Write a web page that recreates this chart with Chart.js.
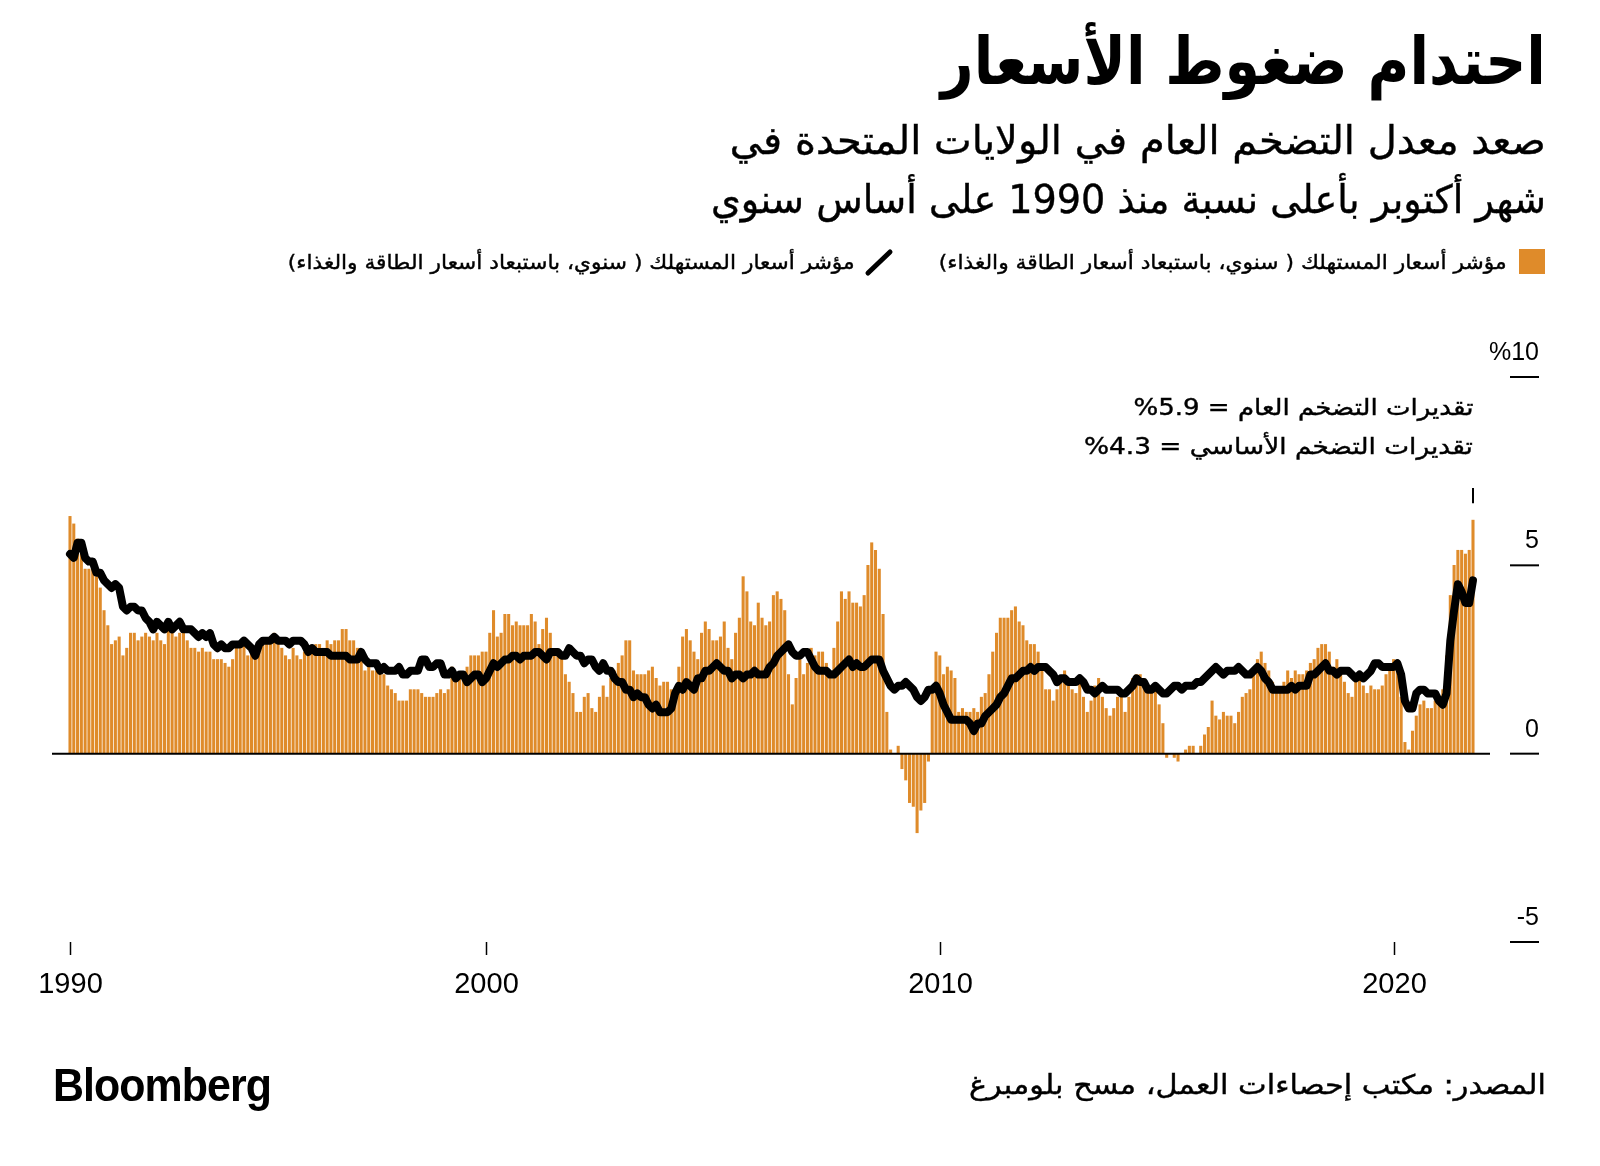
<!DOCTYPE html>
<html>
<head>
<meta charset="utf-8">
<script src="https://cdn.jsdelivr.net/npm/chart.js@4.4.0/dist/chart.umd.min.js"></script>
<style>
body { margin: 0; background: #fff; width: 1600px; height: 1166px; overflow: hidden; position: relative; color: #000; }
canvas { position: absolute; left: 0; top: 0; }
.t { position: absolute; white-space: nowrap; direction: rtl; line-height: 1; transform-origin: right center; font-family: "DejaVu Sans", sans-serif; -webkit-text-stroke: 0.4px #000; }
#titulo { font-weight: bold; font-size: 66px; right: 54px; top: 29px; -webkit-text-stroke: 0; }
#sub1 { font-size: 39px; right: 54px; top: 121px; }
#sub2 { font-size: 39px; right: 54px; top: 180px; }
#ley1 { font-size: 20px; right: 93px; top: 252px; }
#ley2 { font-size: 20px; right: 745px; top: 252px; }
#nota1 { font-size: 23px; right: 127px; top: 396px; }
#nota2 { font-size: 23px; right: 127px; top: 435px; }
#fuente { font-size: 27px; right: 54px; top: 1071px; }
#logo { position: absolute; left: 53px; top: 1062px; font-family: "Liberation Sans", Arial, sans-serif; font-weight: bold; font-size: 46px; letter-spacing: -1px; line-height: 1; white-space: nowrap; transform-origin: left center; }
</style>
</head>
<body>
<canvas id="grafica" width="1600" height="1166"></canvas>
<div class="t" id="titulo" data-w="605">احتدام ضغوط الأسعار</div>
<div class="t" id="sub1" data-w="816">صعد معدل التضخم العام في الولايات المتحدة في</div>
<div class="t" id="sub2" data-w="835">شهر أكتوبر بأعلى نسبة منذ 1990 على أساس سنوي</div>
<div class="t" id="ley1" data-w="568">مؤشر أسعار المستهلك ( سنوي، باستبعاد أسعار الطاقة والغذاء)</div>
<div class="t" id="ley2" data-w="567">مؤشر أسعار المستهلك ( سنوي، باستبعاد أسعار الطاقة والغذاء)</div>
<div class="t" id="nota1" data-w="340">تقديرات التضخم العام = 5.9%</div>
<div class="t" id="nota2" data-w="389">تقديرات التضخم الأساسي = 4.3%</div>
<div class="t" id="fuente" data-w="577">المصدر: مكتب إحصاءات العمل، مسح بلومبرغ</div>
<div id="logo" data-w="218">Bloomberg</div>
<script>
// Datos mensuales, nov 1990 - oct 2021 (% anual)
const mesInicio = { ano: 1990, mes: 11 };

const inflacionGeneral = [
    6.3, 6.1,
    5.7, 5.3, 4.9, 4.9, 5.0, 4.7, 4.4, 3.8, 3.4, 2.9, 3.0, 3.1, // 1991
    2.6, 2.8, 3.2, 3.2, 3.0, 3.1, 3.2, 3.1, 3.0, 3.2, 3.0, 2.9, // 1992
    3.3, 3.2, 3.1, 3.2, 3.2, 3.0, 2.8, 2.8, 2.7, 2.8, 2.7, 2.7, // 1993
    2.5, 2.5, 2.5, 2.4, 2.3, 2.5, 2.8, 2.9, 3.0, 2.6, 2.7, 2.7, // 1994
    2.8, 2.9, 2.9, 3.1, 3.2, 3.0, 2.8, 2.6, 2.5, 2.8, 2.6, 2.5, // 1995
    2.7, 2.7, 2.8, 2.9, 2.9, 2.8, 3.0, 2.9, 3.0, 3.0, 3.3, 3.3, // 1996
    3.0, 3.0, 2.8, 2.5, 2.2, 2.3, 2.2, 2.2, 2.2, 2.1, 1.8, 1.7, // 1997
    1.6, 1.4, 1.4, 1.4, 1.7, 1.7, 1.7, 1.6, 1.5, 1.5, 1.5, 1.6, // 1998
    1.7, 1.6, 1.7, 2.3, 2.1, 2.0, 2.1, 2.3, 2.6, 2.6, 2.6, 2.7, // 1999
    2.7, 3.2, 3.8, 3.1, 3.2, 3.7, 3.7, 3.4, 3.5, 3.4, 3.4, 3.4, // 2000
    3.7, 3.5, 2.9, 3.3, 3.6, 3.2, 2.7, 2.7, 2.6, 2.1, 1.9, 1.6, // 2001
    1.1, 1.1, 1.5, 1.6, 1.2, 1.1, 1.5, 1.8, 1.5, 2.0, 2.2, 2.4, // 2002
    2.6, 3.0, 3.0, 2.2, 2.1, 2.1, 2.1, 2.2, 2.3, 2.0, 1.8, 1.9, // 2003
    1.9, 1.7, 1.7, 2.3, 3.1, 3.3, 3.0, 2.7, 2.5, 3.2, 3.5, 3.3, // 2004
    3.0, 3.0, 3.1, 3.5, 2.8, 2.5, 3.2, 3.6, 4.7, 4.3, 3.5, 3.4, // 2005
    4.0, 3.6, 3.4, 3.5, 4.2, 4.3, 4.1, 3.8, 2.1, 1.3, 2.0, 2.5, // 2006
    2.1, 2.4, 2.8, 2.6, 2.7, 2.7, 2.4, 2.0, 2.8, 3.5, 4.3, 4.1, // 2007
    4.3, 4.0, 4.0, 3.9, 4.2, 5.0, 5.6, 5.4, 4.9, 3.7, 1.1, 0.1, // 2008
    0.0, 0.2, -0.4, -0.7, -1.3, -1.4, -2.1, -1.5, -1.3, -0.2, 1.8, 2.7, // 2009
    2.6, 2.1, 2.3, 2.2, 2.0, 1.1, 1.2, 1.1, 1.1, 1.2, 1.1, 1.5, // 2010
    1.6, 2.1, 2.7, 3.2, 3.6, 3.6, 3.6, 3.8, 3.9, 3.5, 3.4, 3.0, // 2011
    2.9, 2.9, 2.7, 2.3, 1.7, 1.7, 1.4, 1.7, 2.0, 2.2, 1.8, 1.7, // 2012
    1.6, 2.0, 1.5, 1.1, 1.4, 1.8, 2.0, 1.5, 1.2, 1.0, 1.2, 1.5, // 2013
    1.6, 1.1, 1.5, 2.0, 2.1, 2.1, 2.0, 1.7, 1.7, 1.7, 1.3, 0.8, // 2014
    -0.1, 0.0, -0.1, -0.2, 0.0, 0.1, 0.2, 0.2, 0.0, 0.2, 0.5, 0.7, // 2015
    1.4, 1.0, 0.9, 1.1, 1.0, 1.0, 0.8, 1.1, 1.5, 1.6, 1.7, 2.1, // 2016
    2.5, 2.7, 2.4, 2.2, 1.9, 1.6, 1.7, 1.9, 2.2, 2.0, 2.2, 2.1, // 2017
    2.1, 2.2, 2.4, 2.5, 2.8, 2.9, 2.9, 2.7, 2.3, 2.5, 2.2, 1.9, // 2018
    1.6, 1.5, 1.9, 2.0, 1.8, 1.6, 1.8, 1.7, 1.7, 1.8, 2.1, 2.3, // 2019
    2.5, 2.3, 1.5, 0.3, 0.1, 0.6, 1.0, 1.3, 1.4, 1.2, 1.2, 1.4, // 2020
    1.4, 1.7, 2.6, 4.2, 5.0, 5.4, 5.4, 5.3, 5.4, 6.2            // 2021
];

const inflacionSubyacente = [
    5.3, 5.2,
    5.6, 5.6, 5.2, 5.1, 5.1, 4.8, 4.8, 4.6, 4.5, 4.4, 4.5, 4.4, // 1991
    3.9, 3.8, 3.9, 3.9, 3.8, 3.8, 3.6, 3.5, 3.3, 3.5, 3.4, 3.3, // 1992
    3.5, 3.3, 3.4, 3.5, 3.3, 3.3, 3.3, 3.2, 3.1, 3.2, 3.1, 3.2, // 1993
    2.9, 2.8, 2.9, 2.8, 2.8, 2.9, 2.9, 2.9, 3.0, 2.9, 2.8, 2.6, // 1994
    2.9, 3.0, 3.0, 3.0, 3.1, 3.0, 3.0, 3.0, 2.9, 3.0, 3.0, 3.0, // 1995
    2.9, 2.7, 2.8, 2.7, 2.7, 2.7, 2.7, 2.6, 2.6, 2.6, 2.6, 2.6, // 1996
    2.5, 2.5, 2.5, 2.7, 2.5, 2.4, 2.4, 2.4, 2.2, 2.3, 2.2, 2.2, // 1997
    2.2, 2.3, 2.1, 2.1, 2.2, 2.2, 2.2, 2.5, 2.5, 2.3, 2.3, 2.4, // 1998
    2.4, 2.1, 2.1, 2.2, 2.0, 2.1, 2.1, 1.9, 2.0, 2.1, 2.1, 1.9, // 1999
    2.0, 2.2, 2.4, 2.3, 2.4, 2.5, 2.5, 2.6, 2.6, 2.5, 2.6, 2.6, // 2000
    2.6, 2.7, 2.7, 2.6, 2.5, 2.7, 2.7, 2.7, 2.6, 2.6, 2.8, 2.7, // 2001
    2.6, 2.6, 2.4, 2.5, 2.5, 2.3, 2.2, 2.4, 2.2, 2.2, 2.0, 1.9, // 2002
    1.9, 1.7, 1.7, 1.5, 1.6, 1.5, 1.5, 1.3, 1.2, 1.3, 1.1, 1.1, // 2003
    1.1, 1.2, 1.6, 1.8, 1.7, 1.9, 1.8, 1.7, 2.0, 2.0, 2.2, 2.2, // 2004
    2.3, 2.4, 2.3, 2.2, 2.2, 2.0, 2.1, 2.1, 2.0, 2.1, 2.1, 2.2, // 2005
    2.1, 2.1, 2.1, 2.3, 2.4, 2.6, 2.7, 2.8, 2.9, 2.7, 2.6, 2.6, // 2006
    2.7, 2.7, 2.5, 2.3, 2.2, 2.2, 2.2, 2.1, 2.1, 2.2, 2.3, 2.4, // 2007
    2.5, 2.3, 2.4, 2.3, 2.3, 2.4, 2.5, 2.5, 2.5, 2.2, 2.0, 1.8, // 2008
    1.7, 1.8, 1.8, 1.9, 1.8, 1.7, 1.5, 1.4, 1.5, 1.7, 1.7, 1.8, // 2009
    1.6, 1.3, 1.1, 0.9, 0.9, 0.9, 0.9, 0.9, 0.8, 0.6, 0.8, 0.8, // 2010
    1.0, 1.1, 1.2, 1.3, 1.5, 1.6, 1.8, 2.0, 2.0, 2.1, 2.2, 2.2, // 2011
    2.3, 2.2, 2.3, 2.3, 2.3, 2.2, 2.1, 1.9, 2.0, 2.0, 1.9, 1.9, // 2012
    1.9, 2.0, 1.9, 1.7, 1.7, 1.6, 1.7, 1.8, 1.7, 1.7, 1.7, 1.7, // 2013
    1.6, 1.6, 1.7, 1.8, 2.0, 1.9, 1.9, 1.7, 1.7, 1.8, 1.7, 1.6, // 2014
    1.6, 1.7, 1.8, 1.8, 1.7, 1.8, 1.8, 1.8, 1.9, 1.9, 2.0, 2.1, // 2015
    2.2, 2.3, 2.2, 2.1, 2.2, 2.2, 2.2, 2.3, 2.2, 2.1, 2.1, 2.2, // 2016
    2.3, 2.2, 2.0, 1.9, 1.7, 1.7, 1.7, 1.7, 1.7, 1.8, 1.7, 1.8, // 2017
    1.8, 1.8, 2.1, 2.1, 2.2, 2.3, 2.4, 2.2, 2.2, 2.1, 2.2, 2.2, // 2018
    2.2, 2.1, 2.0, 2.1, 2.0, 2.1, 2.2, 2.4, 2.4, 2.3, 2.3, 2.3, // 2019
    2.3, 2.4, 2.1, 1.4, 1.2, 1.2, 1.6, 1.7, 1.7, 1.6, 1.6, 1.6, // 2020
    1.4, 1.3, 1.6, 3.0, 3.8, 4.5, 4.3, 4.0, 4.0, 4.6            // 2021
];

// Etiquetas del eje
const etiquetasX = ['1990', '2000', '2010', '2020'];
const mesesX = ['1990-11', '2000-01', '2010-01', '2020-01'];
const valoresY = [10, 5, 0, -5];
const etiquetasY = ['%10', '5', '0', '-5'];

const NARANJA = '#DF8B2A';

function crearMeses(inicio, cantidad) {
    const meses = [];
    for (let i = 0; i < cantidad; i++) {
        const total = inicio.mes - 1 + i;
        const ano = inicio.ano + Math.floor(total / 12);
        const mes = (total % 12) + 1;
        meses.push(`${ano}-${String(mes).padStart(2, '0')}`);
    }
    return meses;
}

const meses = crearMeses(mesInicio, inflacionGeneral.length);

// Ejes, línea cero, leyenda dibujados sobre las escalas de Chart.js
const decoracion = {
    id: 'decoracion',
    afterDatasetsDraw(chart) {
        const { ctx, chartArea, scales: { x, y } } = chart;
        ctx.save();
        ctx.strokeStyle = '#000';
        ctx.fillStyle = '#000';

        // línea cero
        const y0 = y.getPixelForValue(0);
        ctx.lineWidth = 2;
        ctx.beginPath();
        ctx.moveTo(chartArea.left - 18, y0);
        ctx.lineTo(chartArea.right + 17, y0);
        ctx.stroke();

        // eje Y a la derecha
        ctx.font = '25px "Liberation Sans", Arial, sans-serif';
        ctx.textAlign = 'right';
        ctx.textBaseline = 'alphabetic';
        valoresY.forEach((v, i) => {
            const py = y.getPixelForValue(v);
            ctx.beginPath();
            ctx.moveTo(chartArea.right + 37, py);
            ctx.lineTo(chartArea.right + 66, py);
            ctx.stroke();
            ctx.fillText(etiquetasY[i], chartArea.right + 66, py - 17);
        });

        // eje X
        ctx.font = '29px "Liberation Sans", Arial, sans-serif';
        ctx.textAlign = 'center';
        ctx.textBaseline = 'middle';
        ctx.lineWidth = 1.5;
        const yBase = y.getPixelForValue(-5);
        mesesX.forEach((m, i) => {
            const px = Math.round(x.getPixelForValue(meses.indexOf(m))) + 0.5;
            ctx.beginPath();
            ctx.moveTo(px, yBase);
            ctx.lineTo(px, yBase + 13);
            ctx.stroke();
            ctx.fillText(etiquetasX[i], px, yBase + 43);
        });

        // marca sobre el último mes
        const pxUlt = x.getPixelForValue(meses.length - 1);
        ctx.lineWidth = 2;
        ctx.beginPath();
        ctx.moveTo(pxUlt, y.getPixelForValue(7.05));
        ctx.lineTo(pxUlt, y.getPixelForValue(6.65));
        ctx.stroke();

        // leyenda: cuadro naranja y trazo negro
        ctx.fillStyle = NARANJA;
        ctx.fillRect(1519, 249, 26, 25);
        ctx.lineWidth = 5;
        ctx.lineCap = 'round';
        ctx.beginPath();
        ctx.moveTo(868, 273);
        ctx.lineTo(890, 252);
        ctx.stroke();
        ctx.restore();
    }
};

function crearGrafica() {
    const ctx = document.getElementById('grafica').getContext('2d');
    return new Chart(ctx, {
        type: 'bar',
        data: {
            labels: meses,
            datasets: [
                {
                    type: 'line',
                    data: inflacionSubyacente,
                    borderColor: '#000',
                    borderWidth: 8,
                    pointRadius: 0,
                    tension: 0,
                    borderJoinStyle: 'round',
                    borderCapStyle: 'round',
                    clip: false,
                    order: 0
                },
                {
                    type: 'bar',
                    data: inflacionGeneral,
                    backgroundColor: NARANJA,
                    barThickness: 2.4,
                    clip: false,
                    order: 1
                }
            ]
        },
        options: {
            responsive: false,
            animation: false,
            devicePixelRatio: 1,
            layout: { padding: { left: 70, right: 127, top: 377, bottom: 224 } },
            plugins: { legend: { display: false }, tooltip: { enabled: false } },
            scales: {
                x: { display: false, offset: false },
                y: { display: false, min: -5, max: 10 }
            }
        },
        plugins: [decoracion]
    });
}

function ajustarTextos() {
    document.querySelectorAll('[data-w]').forEach(el => {
        const ancho = el.getBoundingClientRect().width;
        el.style.transform = `scaleX(${el.dataset.w / ancho})`;
    });
}

document.addEventListener("DOMContentLoaded", () => {
    crearGrafica();
    ajustarTextos();
});
</script>
</body>
</html>
